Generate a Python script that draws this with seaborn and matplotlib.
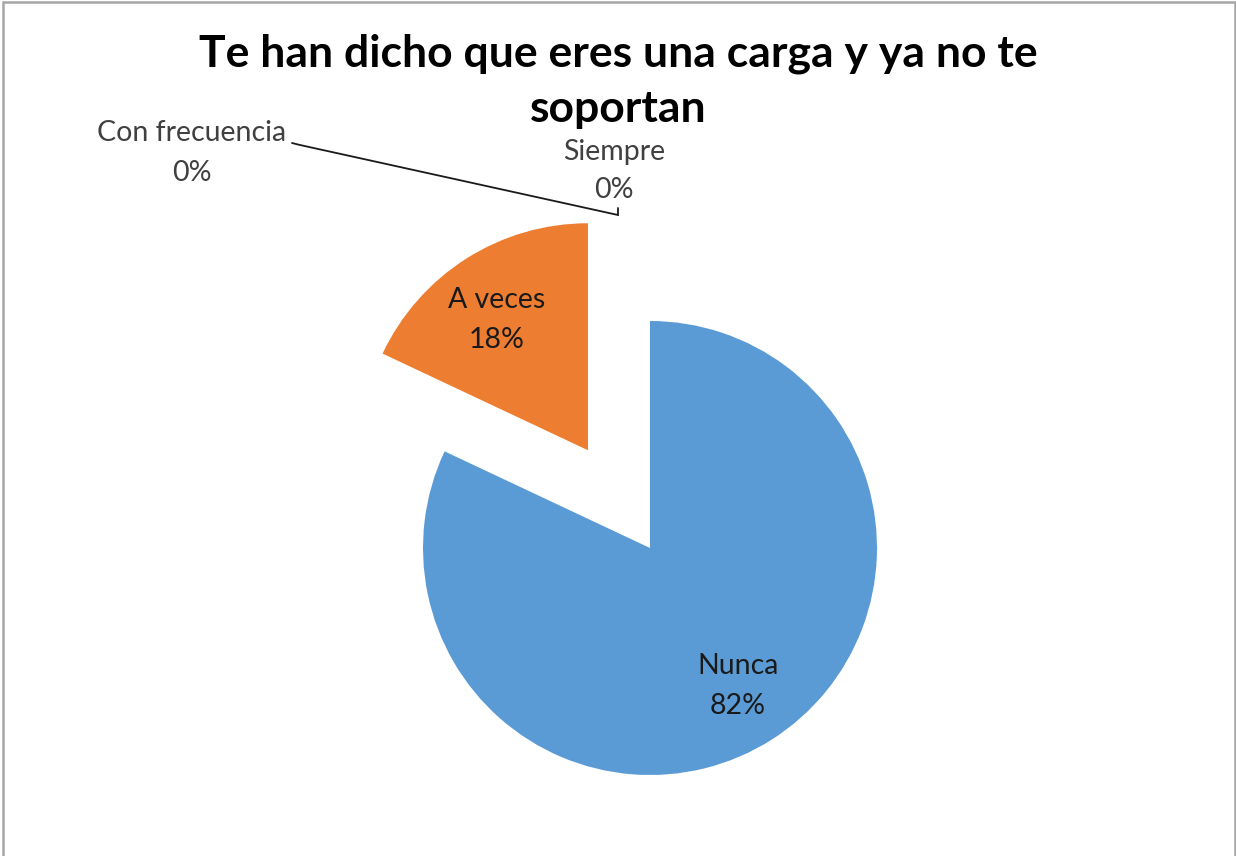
import matplotlib
matplotlib.use("Agg")
import matplotlib.pyplot as plt
from matplotlib.patches import Rectangle
import seaborn as sns
import numpy as np

categories = ["Nunca", "A veces", "Con frecuencia", "Siempre"]
values = [82, 18, 0, 0]
pct_labels = ["82%", "18%", "0%", "0%"]
title = "Te han dicho que eres una carga y ya no te\nsoportan"

sns.set_theme(style="white")
plt.rcParams['font.family'] = ['Lato', 'DejaVu Sans']

W, H = 1236, 856
fig = plt.figure(figsize=(W / 100, H / 100), dpi=100)
ax = fig.add_axes([0, 0, 1, 1])
colors = ["#5B9BD5", "#ED7D31", "#A5A5A5", "#FFC000"]
center = (650, H - 548)
radius = 227
explode_frac = [0, 0.51, 0, 0]
explode = [f * radius for f in explode_frac]
wedges, _ = ax.pie(values, colors=colors, startangle=90, counterclock=False,
                   explode=explode, center=center, radius=radius,
                   wedgeprops=dict(linewidth=0))
ax.set_xlim(0, W)
ax.set_ylim(0, H)
ax.set_aspect('auto')
ax.axis('off')

label_size = 20.5
label_dist = [0.72, 0.70]
for i in [0, 1]:
    w = wedges[i]
    ang = np.deg2rad((w.theta1 + w.theta2) / 2 + (2.5 if i == 1 else 0))
    cx, cy = w.center
    d = label_dist[i] * w.r
    ax.text(cx + d * np.cos(ang), cy + d * np.sin(ang),
            f"{categories[i]}\n{pct_labels[i]}", ha="center", va="center",
            fontsize=label_size, color="#1a1a1a", linespacing=1.7)

# outside labels for zero slices
ax.text(192, H - 153, f"{categories[2]}\n{pct_labels[2]}", ha="center", va="center",
        fontsize=label_size, color="#404040", linespacing=1.7)
ax.text(614, H - 171, f"{categories[3]}\n{pct_labels[3]}", ha="center", va="center",
        fontsize=label_size, color="#404040", linespacing=1.6)
ax.plot([292, 300, 618, 618], [H - 143, H - 145, H - 215, H - 208],
        color="#1a1a1a", lw=1.3, solid_joinstyle="miter")

fig.text(0.5, 1 - 81 / H, title, ha="center", va="center", fontsize=32,
         fontweight="bold", color="#000000", linespacing=1.45)

fig.patches.append(Rectangle((3 / W, -0.05), (1235 - 3) / W, 1.05 - 2.5 / H,
                             transform=fig.transFigure, fill=False,
                             edgecolor="#A6A6A6", lw=1.8))

fig.savefig("out.png", dpi=100, facecolor="white")
